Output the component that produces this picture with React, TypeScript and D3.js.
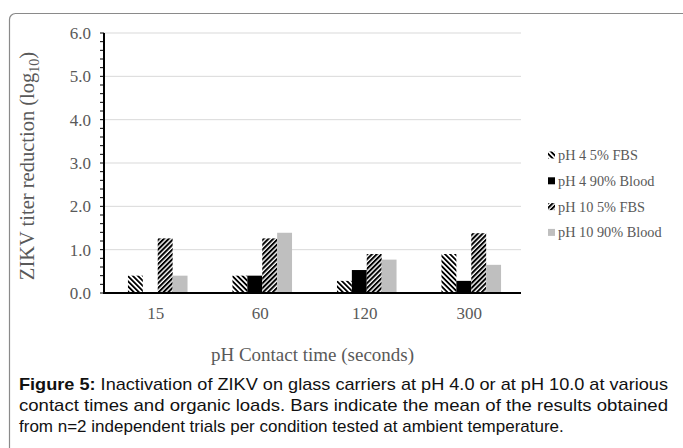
import React from "react";
import * as d3 from "d3";

// contact times (seconds)
const times = ["15", "60", "120", "300"];
const seriesNames = ["pH 4 5% FBS", "pH 4 90% Blood", "pH 10 5% FBS", "pH 10 90% Blood"];
// log10 titer reduction, one array per series
const ph4Fbs = [0.4, 0.4, 0.28, 0.9];
const ph4Blood = [0, 0.4, 0.53, 0.28];
const ph10Fbs = [1.26, 1.26, 0.9, 1.38];
const ph10Blood = [0.4, 1.39, 0.77, 0.65];
const yTicks = [0, 1, 2, 3, 4, 5, 6];

const captionLines = [
  "Inactivation of ZIKV on glass carriers at pH 4.0 or at pH 10.0 at various",
  "contact times and organic loads. Bars indicate the mean of the results obtained",
  "from n=2 independent trials per condition tested at ambient temperature.",
];

const fills = ["url(#hatchBack)", "#000000", "url(#hatchFwd)", "#bfbfbf"];
const serif = "'Liberation Serif', 'Times New Roman', serif";
const grey = "#595959";

export default function App() {
  const width = 683;
  const height = 448;
  const margin = { top: 33, left: 104, right: 162, bottom: 155 };
  const plotW = width - margin.left - margin.right;
  const plotH = height - margin.top - margin.bottom;

  const values = [ph4Fbs, ph4Blood, ph10Fbs, ph10Blood];

  const x = d3.scaleBand().domain(times).range([2, plotW + 2]).paddingInner(0.43).paddingOuter(0.21);
  const xs = d3.scaleBand().domain(seriesNames).range([0, x.bandwidth()]);
  const y = d3.scaleLinear().domain([0, 6]).range([plotH, 0]);
  const minor = d3.range(0, 6.001, 0.2);

  return (
    <svg
      width={width}
      height={height}
      style={{ position: "absolute", left: 0, top: 0, background: "#fff" }}
    >
      <defs>
        <pattern id="hatchBack" patternUnits="userSpaceOnUse" width="3.6" height="3.6" patternTransform="rotate(-45)">
          <rect width="3.6" height="3.6" fill="#fff" />
          <rect width="1.8" height="3.6" fill="#000" />
        </pattern>
        <pattern id="hatchFwd" patternUnits="userSpaceOnUse" width="3.4" height="3.4" patternTransform="rotate(45)">
          <rect width="3.4" height="3.4" fill="#fff" />
          <rect width="2" height="3.4" fill="#000" />
        </pattern>
      </defs>

      {/* frame */}
      <rect x={9.5} y={13.5} width={700} height={460} rx={6} fill="none" stroke="#8a8a8a" strokeWidth={1.2} />

      <g transform={`translate(${margin.left},${margin.top})`}>
        {/* gridlines */}
        {yTicks.map((t) => (
          <line key={t} x1={0} x2={plotW} y1={y(t)} y2={y(t)} stroke="#d9d9d9" strokeWidth={1} />
        ))}

        {/* bars */}
        {times.map((t, i) => (
          <g key={t} transform={`translate(${x(t)},0)`}>
            {seriesNames.map((s, j) => (
              <rect
                key={s}
                x={xs(s)}
                y={y(values[j][i])}
                width={xs.bandwidth()}
                height={plotH - y(values[j][i])}
                fill={fills[j]}
              />
            ))}
          </g>
        ))}

        {/* y axis */}
        {minor.map((m) => (
          <line key={m} x1={-4} x2={0} y1={y(m)} y2={y(m)} stroke="#000" strokeWidth={1} />
        ))}
        <line x1={0} x2={0} y1={y(6)} y2={plotH + 1} stroke="#000" strokeWidth={2} />
        {yTicks.map((t) => (
          <text
            key={t}
            x={-13}
            y={y(t)}
            dy="0.35em"
            textAnchor="end"
            fontFamily={serif}
            fontSize={17}
            fill={grey}
          >
            {d3.format(".1f")(t)}
          </text>
        ))}

        {/* x axis */}
        <line x1={0} x2={plotW} y1={plotH} y2={plotH} stroke="#000" strokeWidth={2} />
        {times.map((t) => (
          <text
            key={t}
            x={(x(t) as number) + x.bandwidth() / 2 - 2}
            y={plotH + 26}
            textAnchor="middle"
            fontFamily={serif}
            fontSize={17}
            fill={grey}
          >
            {t}
          </text>
        ))}

        <text
          x={plotW / 2}
          y={plotH + 68}
          textAnchor="middle"
          fontFamily={serif}
          fontSize={19}
          fill={grey}
        >
          pH Contact time (seconds)
        </text>

        <text
          transform={`translate(${-70},${plotH / 2 + 3}) rotate(-90)`}
          textAnchor="middle"
          fontFamily={serif}
          fontSize={20.5}
          fill={grey}
        >
          ZIKV titer reduction (log
          <tspan fontSize={14} dy={5}>10</tspan>
          <tspan dy={-5}>)</tspan>
        </text>
      </g>

      {/* legend */}
      <g transform="translate(548,155)">
        {seriesNames.map((s, j) => (
          <g key={s} transform={`translate(0,${j * 25.8})`}>
            <rect x={0} y={-3.5} width={7} height={7} fill={fills[j]} />
            <text x={10} y={0} dy="0.35em" fontFamily={serif} fontSize={14.3} fill={grey}>
              {s}
            </text>
          </g>
        ))}
      </g>

      {/* caption */}
      <g fontFamily="'Liberation Sans', Arial, sans-serif" fontSize={17} fill="#111">
        {captionLines.map((line, i) => (
          <text
            key={i}
            x={19}
            y={390 + i * 21}
            textLength={i < 2 ? 649 : undefined}
            lengthAdjust="spacingAndGlyphs"
          >
            {i === 0 ? <tspan fontWeight="bold">Figure 5: </tspan> : null}
            {line}
          </text>
        ))}
      </g>
    </svg>
  );
}
